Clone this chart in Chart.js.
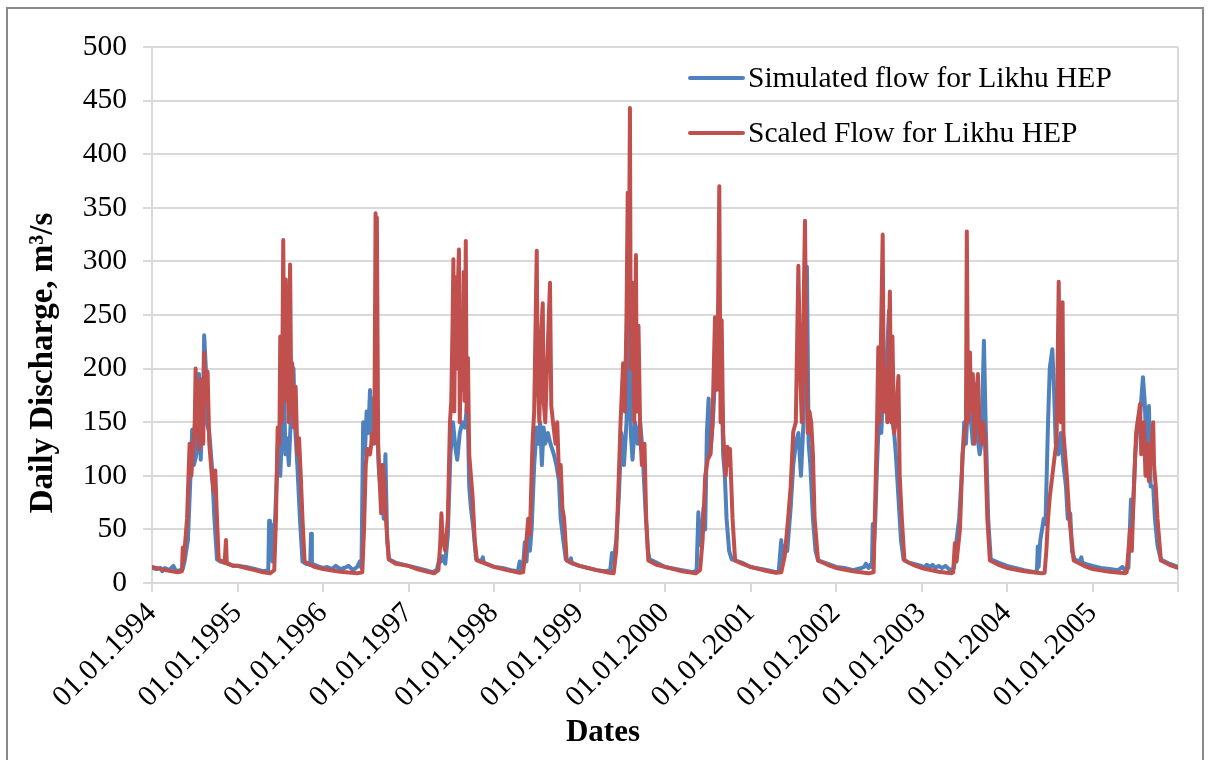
<!DOCTYPE html>
<html><head><meta charset="utf-8">
<script src="https://cdn.jsdelivr.net/npm/chart.js@4.4.1/dist/chart.umd.min.js"></script>
<style>
html,body{margin:0;padding:0;background:#fff;}
#frame{position:absolute;left:6px;top:7px;width:1198px;height:800px;border:2px solid #8a8a8a;box-sizing:border-box;}
#wrap{position:absolute;left:0;top:0;width:1212px;height:760px;}
</style></head><body>
<div id="frame"></div>
<div id="wrap"><canvas id="c" width="1212" height="760"></canvas></div>
<script>
// x = date as decimal year, y = daily discharge (m3/s)
const seriesLabels = ['Simulated flow for Likhu HEP', 'Scaled Flow for Likhu HEP'];
const xTitle = 'Dates';
const yTitle = 'Daily Discharge, m³/s';
const tickYears = [1994,1995,1996,1997,1998,1999,2000,2001,2002,2003,2004,2005,2006];
const tickLabels = ['01.01.1994','01.01.1995','01.01.1996','01.01.1997','01.01.1998','01.01.1999','01.01.2000','01.01.2001','01.01.2002','01.01.2003','01.01.2004','01.01.2005',''];
const yTicks = [0,50,100,150,200,250,300,350,400,450,500];

const simulatedFlow = [
[1994.00,14],[1994.05,13],[1994.10,14],[1994.12,11],[1994.15,14],[1994.20,12],[1994.25,16],[1994.28,11],[1994.33,12],[1994.36,13],[1994.38,20],[1994.42,40],[1994.45,100],[1994.47,143],[1994.49,110],[1994.52,120],[1994.55,195],[1994.57,115],[1994.60,180],[1994.61,231],[1994.63,200],[1994.64,150],[1994.67,140],[1994.70,110],[1994.73,60],[1994.76,22],[1994.80,20],[1994.90,18],[1994.95,16],
[1995.00,16],[1995.10,15],[1995.20,13],[1995.30,11],[1995.36,12],[1995.37,58],[1995.38,30],[1995.39,55],[1995.41,20],[1995.44,60],[1995.46,100],[1995.48,145],[1995.50,100],[1995.52,140],[1995.54,200],[1995.56,120],[1995.58,135],[1995.60,110],[1995.63,165],[1995.655,200],[1995.67,150],[1995.70,110],[1995.73,60],[1995.76,20],[1995.80,18],[1995.85,17],[1995.86,46],[1995.87,18],[1995.93,16],
[1996.00,14],[1996.05,15],[1996.10,13],[1996.15,16],[1996.20,13],[1996.25,14],[1996.30,16],[1996.35,12],[1996.40,15],[1996.43,20],[1996.45,14],[1996.47,150],[1996.49,120],[1996.51,160],[1996.53,140],[1996.55,180],[1996.57,130],[1996.59,170],[1996.61,175],[1996.63,160],[1996.65,110],[1996.67,90],[1996.69,110],[1996.71,60],[1996.73,120],[1996.75,40],[1996.77,22],[1996.85,19],
[1997.00,16],[1997.10,14],[1997.20,12],[1997.28,10],[1997.33,12],[1997.36,22],[1997.38,20],[1997.40,25],[1997.43,18],[1997.46,45],[1997.49,120],[1997.52,150],[1997.55,125],[1997.57,115],[1997.60,140],[1997.63,150],[1997.66,145],[1997.69,170],[1997.71,90],[1997.73,70],[1997.76,50],[1997.79,22],[1997.85,20],[1997.87,24],[1997.88,19],
[1998.00,15],[1998.10,14],[1998.20,12],[1998.28,11],[1998.30,20],[1998.31,12],[1998.34,15],[1998.36,38],[1998.38,20],[1998.40,48],[1998.42,30],[1998.44,50],[1998.47,110],[1998.50,145],[1998.52,130],[1998.54,150],[1998.56,110],[1998.58,145],[1998.60,130],[1998.63,140],[1998.66,130],[1998.70,120],[1998.73,110],[1998.76,95],[1998.78,60],[1998.81,40],[1998.84,22],[1998.88,20],[1998.90,23],[1998.91,19],
[1999.00,16],[1999.10,14],[1999.20,12],[1999.30,11],[1999.36,12],[1999.38,28],[1999.40,20],[1999.43,40],[1999.46,80],[1999.49,140],[1999.52,110],[1999.55,150],[1999.58,255],[1999.60,140],[1999.62,115],[1999.65,150],[1999.68,130],[1999.71,150],[1999.74,120],[1999.77,70],[1999.80,30],[1999.82,22],[1999.90,19],
[2000.00,15],[2000.20,12],[2000.33,10],[2000.37,12],[2000.39,66],[2000.40,40],[2000.42,35],[2000.45,70],[2000.47,50],[2000.49,140],[2000.51,172],[2000.53,120],[2000.56,150],[2000.59,200],[2000.62,230],[2000.64,180],[2000.66,200],[2000.68,120],[2000.70,100],[2000.72,60],[2000.75,30],[2000.78,22],[2000.90,19],
[2001.00,15],[2001.20,12],[2001.30,10],[2001.33,11],[2001.36,40],[2001.37,20],[2001.40,35],[2001.43,30],[2001.47,70],[2001.50,110],[2001.53,130],[2001.56,140],[2001.59,100],[2001.62,150],[2001.66,295],[2001.68,130],[2001.70,110],[2001.73,60],[2001.76,30],[2001.79,21],[2001.90,18],
[2002.00,15],[2002.10,14],[2002.20,12],[2002.30,14],[2002.33,15],[2002.35,18],[2002.38,14],[2002.40,17],[2002.42,15],[2002.43,55],[2002.44,30],[2002.46,60],[2002.48,110],[2002.50,150],[2002.53,140],[2002.56,200],[2002.58,180],[2002.60,220],[2002.62,254],[2002.64,200],[2002.66,150],[2002.68,140],[2002.70,120],[2002.73,80],[2002.76,40],[2002.79,22],[2002.85,19],[2002.90,18],
[2003.00,16],[2003.03,14],[2003.06,17],[2003.10,15],[2003.13,17],[2003.16,14],[2003.20,16],[2003.24,14],[2003.28,16],[2003.32,13],[2003.35,12],[2003.38,14],[2003.41,40],[2003.44,60],[2003.47,100],[2003.50,150],[2003.52,130],[2003.55,180],[2003.58,150],[2003.60,130],[2003.63,185],[2003.65,140],[2003.68,120],[2003.70,130],[2003.73,226],[2003.75,150],[2003.78,60],[2003.81,22],[2003.90,19],
[2004.00,16],[2004.20,12],[2004.33,10],[2004.35,12],[2004.36,34],[2004.37,15],[2004.39,40],[2004.41,50],[2004.43,60],[2004.45,55],[2004.48,150],[2004.50,200],[2004.53,218],[2004.55,180],[2004.57,130],[2004.60,120],[2004.63,140],[2004.66,110],[2004.69,90],[2004.71,60],[2004.74,65],[2004.76,30],[2004.79,22],[2004.85,20],[2004.87,24],[2004.88,19],[2004.95,17],
[2005.00,16],[2005.10,14],[2005.20,13],[2005.30,12],[2005.35,15],[2005.38,12],[2005.42,14],[2005.45,78],[2005.47,60],[2005.50,120],[2005.53,150],[2005.56,160],[2005.59,192],[2005.61,170],[2005.63,130],[2005.66,165],[2005.68,90],[2005.71,90],[2005.73,60],[2005.76,35],[2005.80,22],[2005.90,18],[2006.00,15]
];

const scaledFlow = [
[1994.00,15],[1994.15,12],[1994.30,10],[1994.35,11],[1994.36,33],[1994.37,20],[1994.41,60],[1994.44,130],[1994.46,100],[1994.50,150],[1994.51,200],[1994.53,160],[1994.55,125],[1994.57,190],[1994.60,130],[1994.61,215],[1994.63,170],[1994.65,197],[1994.67,130],[1994.70,100],[1994.72,85],[1994.74,105],[1994.76,60],[1994.78,22],[1994.85,19],[1994.865,40],[1994.875,18],[1994.95,16],
[1995.00,16],[1995.10,14],[1995.20,12],[1995.30,10],[1995.38,9],[1995.43,12],[1995.45,60],[1995.47,145],[1995.49,130],[1995.50,230],[1995.52,150],[1995.535,320],[1995.55,170],[1995.565,283],[1995.58,200],[1995.60,150],[1995.615,297],[1995.63,160],[1995.64,205],[1995.66,145],[1995.68,183],[1995.70,120],[1995.72,135],[1995.74,100],[1995.76,60],[1995.785,20],[1995.90,15],
[1996.00,13],[1996.20,10.5],[1996.40,9],[1996.46,10],[1996.48,50],[1996.50,110],[1996.52,125],[1996.55,120],[1996.58,140],[1996.60,130],[1996.615,345],[1996.625,200],[1996.63,341],[1996.645,130],[1996.66,100],[1996.68,65],[1996.70,110],[1996.72,90],[1996.74,55],[1996.77,22],[1996.85,18],
[1997.00,16],[1997.10,13],[1997.20,11],[1997.30,9],[1997.35,12],[1997.37,35],[1997.385,65],[1997.40,40],[1997.43,30],[1997.46,60],[1997.485,150],[1997.50,170],[1997.515,240],[1997.525,302],[1997.535,160],[1997.55,285],[1997.56,200],[1997.575,270],[1997.59,311],[1997.60,150],[1997.615,240],[1997.63,180],[1997.645,290],[1997.655,170],[1997.67,319],[1997.68,160],[1997.695,210],[1997.71,120],[1997.73,100],[1997.75,80],[1997.775,40],[1997.80,21],[1997.90,18],
[1998.00,15],[1998.15,12],[1998.30,9.5],[1998.34,10],[1998.37,30],[1998.40,60],[1998.42,45],[1998.45,130],[1998.47,160],[1998.50,310],[1998.51,200],[1998.53,150],[1998.55,230],[1998.57,261],[1998.58,170],[1998.60,150],[1998.62,200],[1998.655,280],[1998.67,165],[1998.69,150],[1998.72,130],[1998.74,150],[1998.76,100],[1998.78,110],[1998.80,70],[1998.82,60],[1998.85,21],[1998.92,18],
[1999.00,16],[1999.20,12],[1999.35,9.5],[1999.40,9],[1999.43,30],[1999.46,100],[1999.48,150],[1999.51,205],[1999.53,160],[1999.55,250],[1999.564,364],[1999.575,250],[1999.59,443],[1999.60,200],[1999.62,280],[1999.64,150],[1999.66,306],[1999.67,160],[1999.69,240],[1999.71,140],[1999.73,110],[1999.76,130],[1999.78,60],[1999.805,21],[1999.90,17],
[2000.00,15],[2000.20,11],[2000.36,9],[2000.41,12],[2000.44,40],[2000.47,100],[2000.50,115],[2000.53,120],[2000.555,150],[2000.585,248],[2000.60,180],[2000.62,250],[2000.635,370],[2000.65,150],[2000.663,245],[2000.68,140],[2000.71,100],[2000.73,127],[2000.745,110],[2000.76,125],[2000.79,60],[2000.82,21],[2000.90,18],
[2001.00,15],[2001.20,11],[2001.30,9.5],[2001.36,10],[2001.40,25],[2001.44,60],[2001.47,90],[2001.50,141],[2001.53,150],[2001.56,296],[2001.58,200],[2001.60,150],[2001.62,250],[2001.637,338],[2001.655,200],[2001.67,140],[2001.69,160],[2001.71,150],[2001.73,120],[2001.75,60],[2001.79,21],[2001.90,17],
[2002.00,14],[2002.20,11],[2002.38,9],[2002.44,10],[2002.46,80],[2002.48,150],[2002.495,220],[2002.51,150],[2002.546,325],[2002.56,160],[2002.58,200],[2002.60,150],[2002.63,272],[2002.645,150],[2002.66,230],[2002.68,140],[2002.70,150],[2002.73,193],[2002.745,100],[2002.77,60],[2002.80,21],[2002.90,17],
[2003.00,14],[2003.20,10.5],[2003.35,9],[2003.37,10],[2003.39,37],[2003.41,20],[2003.45,50],[2003.48,120],[2003.50,135],[2003.52,150],[2003.53,328],[2003.545,150],[2003.567,215],[2003.58,160],[2003.60,195],[2003.62,130],[2003.64,175],[2003.66,195],[2003.68,140],[2003.70,130],[2003.72,150],[2003.74,140],[2003.77,60],[2003.80,21],[2003.90,17],
[2004.00,14],[2004.20,11],[2004.40,9],[2004.44,9.5],[2004.46,30],[2004.48,60],[2004.50,80],[2004.53,100],[2004.56,120],[2004.58,132],[2004.605,281],[2004.615,200],[2004.63,150],[2004.65,262],[2004.66,140],[2004.68,120],[2004.70,100],[2004.73,60],[2004.78,21],[2004.90,16],
[2005.00,13],[2005.20,10.5],[2005.38,9],[2005.40,10],[2005.44,50],[2005.46,30],[2005.48,80],[2005.51,140],[2005.556,167],[2005.57,120],[2005.60,150],[2005.62,100],[2005.64,130],[2005.66,95],[2005.71,150],[2005.72,110],[2005.74,90],[2005.76,60],[2005.80,21],[2005.90,17],[2006.00,14]
];

const FONT = "'Liberation Serif', 'Times New Roman', serif";
const seriesColors = ['#4F81BD', '#C0504D'];

const inlineLegend = {
  id: 'inlineLegend',
  afterDatasetsDraw(chart) {
    const ctx = chart.ctx, a = chart.chartArea;
    chart.data.datasets.forEach((ds, i) => {
      const x = a.right - 488, y = a.top + 31 + i * 55;
      ctx.save();
      ctx.strokeStyle = ds.borderColor; ctx.lineWidth = 4; ctx.lineCap = 'round';
      ctx.beginPath(); ctx.moveTo(x, y); ctx.lineTo(x + 53, y); ctx.stroke();
      ctx.fillStyle = '#000'; ctx.font = '29.5px ' + FONT; ctx.textBaseline = 'middle';
      ctx.fillText(ds.label, x + 58, y + 1);
      ctx.restore();
    });
  }
};

const axisTitles = {
  id: 'axisTitles',
  afterDraw(chart) {
    const ctx = chart.ctx, a = chart.chartArea;
    ctx.save();
    ctx.fillStyle = '#000';
    ctx.textAlign = 'center'; ctx.textBaseline = 'middle';
    ctx.font = 'bold 31px ' + FONT;
    ctx.fillText(xTitle, a.left + 451, a.bottom + 150);
    ctx.translate(a.left - 109, a.top + 316);
    ctx.rotate(-Math.PI / 2);
    ctx.font = 'bold 33px ' + FONT;
    ctx.fillText(yTitle, 0, 0);
    ctx.restore();
  }
};

new Chart(document.getElementById('c'), {
  type: 'line',
  data: {
    datasets: [
      { label: seriesLabels[0], data: simulatedFlow.map(p => ({x: p[0], y: p[1]})), borderColor: seriesColors[0], borderWidth: 4, pointRadius: 0, tension: 0, order: 2, borderJoinStyle: 'round', borderCapStyle: 'round' },
      { label: seriesLabels[1], data: scaledFlow.map(p => ({x: p[0], y: p[1]})), borderColor: seriesColors[1], borderWidth: 4, pointRadius: 0, tension: 0, order: 1, borderJoinStyle: 'round', borderCapStyle: 'round' }
    ]
  },
  options: {
    responsive: false, animation: false,
    layout: { padding: { left: 0, right: 34, top: 47, bottom: 0 } },
    plugins: { legend: { display: false }, tooltip: { enabled: false } },
    scales: {
      x: {
        type: 'linear', min: tickYears[0], max: tickYears[tickYears.length - 1],
        afterBuildTicks: s => { s.ticks = tickYears.map(v => ({ value: v })); },
        afterFit: s => { s.height = 177; },
        ticks: { autoSkip: false, maxRotation: 45, minRotation: 45, padding: 4, color: '#000', font: { family: FONT, size: 29.5 },
                 callback: (v, i) => tickLabels[i] },
        grid: { color: c => (c.tick && c.tick.value === 2006) ? '#d9d9d9' : 'rgba(0,0,0,0)', tickColor: '#d9d9d9', lineWidth: 2, tickLength: 9, drawOnChartArea: true },
        border: { color: '#d9d9d9', width: 2 },
        title: { display: false }
      },
      y: {
        min: 0, max: 500,
        afterBuildTicks: s => { s.ticks = yTicks.map(v => ({ value: v })); },
        afterFit: s => { s.width = 152; },
        ticks: { padding: 16, color: '#000', font: { family: FONT, size: 29.5 } },
        grid: { color: '#d9d9d9', lineWidth: 2, tickLength: 9 },
        border: { color: '#d9d9d9', width: 2 },
        title: { display: false }
      }
    }
  },
  plugins: [inlineLegend, axisTitles]
});
</script>
</body></html>
